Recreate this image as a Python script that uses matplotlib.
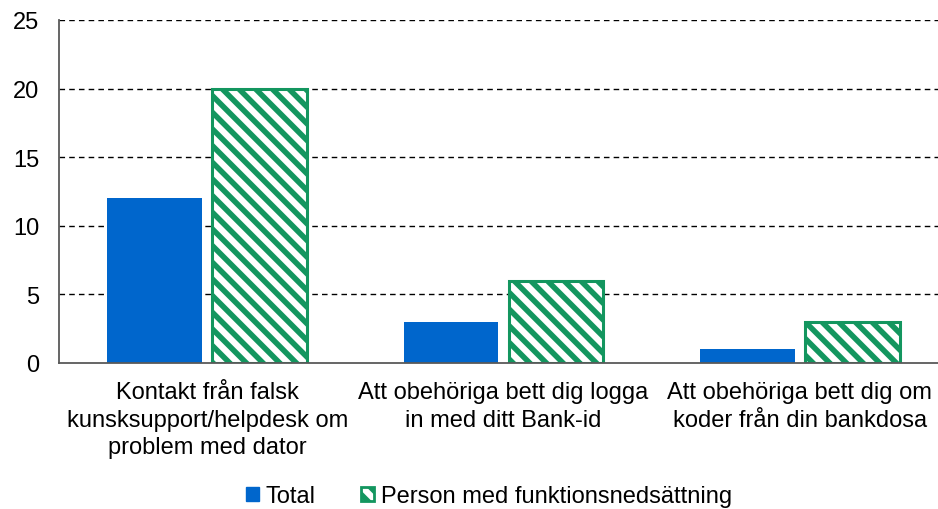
import matplotlib
matplotlib.use("Agg")
import matplotlib.pyplot as plt
import numpy as np
from matplotlib.patches import Patch

categories = ["Kontakt från falsk\nkunsksupport/helpdesk om\nproblem med dator",
              "Att obehöriga bett dig logga\nin med ditt Bank-id",
              "Att obehöriga bett dig om\nkoder från din bankdosa"]
total = [12, 3, 1]
funk = [20, 6, 3]
yticks = [0, 5, 10, 15, 20, 25]
series_names = ["Total", "Person med funktionsnedsättning"]

blue = "#0066CC"
green = "#13965F"

plt.rcParams['font.family'] = ['Liberation Sans', 'DejaVu Sans']
plt.rcParams['hatch.linewidth'] = 4.0
plt.rcParams['hatch.color'] = green

fig = plt.figure(figsize=(9.38, 5.10), dpi=100)
ax = fig.add_axes([59/938, 1-364/510, (948-59)/938, (364-21)/510])

x = np.arange(len(categories))
w = 0.32
gap = 0.017
ax.bar(x - w/2 - gap, total, width=w, color=blue, zorder=3)
ax.bar(x + w/2 + gap, funk, width=w, facecolor="white", edgecolor=green,
       hatch="\\\\", linewidth=2.2, zorder=3)

ax.set_xlim(-0.5, len(categories) - 0.5)
ax.set_ylim(0, 25)
ax.set_yticks(yticks)
ax.set_xticks(x)
ax.set_xticklabels(categories, fontsize=17, linespacing=1.33)
ax.tick_params(axis='y', labelsize=17, length=0, pad=14)
ax.tick_params(axis='x', length=0, pad=13)
for y in yticks[1:]:
    ax.axhline(y, color="black", linestyle=(0, (4, 3)), linewidth=1.0, zorder=1)
for s in ["top", "right"]:
    ax.spines[s].set_visible(False)
for s in ["left", "bottom"]:
    ax.spines[s].set_color("#595959")
    ax.spines[s].set_linewidth(1.3)
ax.spines["bottom"].set_zorder(4)

handles = [Patch(facecolor=blue, edgecolor=blue, label=series_names[0]),
           Patch(facecolor="white", edgecolor=green, hatch="\\\\", linewidth=2, label=series_names[1])]
fig.legend(handles=handles, loc="center", bbox_to_anchor=(0.521, 1-497/510), ncol=2,
           frameon=False, fontsize=17, handlelength=0.55, handleheight=0.55,
           handletextpad=0.3, columnspacing=1.9)

fig.savefig("out.png", dpi=100)
